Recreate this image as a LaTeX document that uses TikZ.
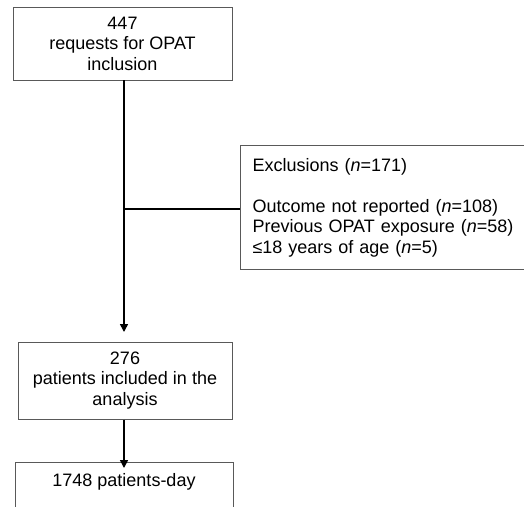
\documentclass[tikz,border=0pt]{standalone}
\usepackage{fontspec}
\setmainfont{Liberation Sans}
\usetikzlibrary{arrows.meta}
\begin{document}
\begin{tikzpicture}[x=1pt,y=-1pt,
  txt/.style={font=\fontsize{18}{20.5}\selectfont},
  box/.style={draw=black!65,line width=1pt,fill=white,inner sep=0pt,txt},
  conn/.style={line width=1.6pt,black},
  arr/.style={conn,-{Triangle[length=8pt,width=8pt]}}]
\useasboundingbox[clip] (0,0) rectangle (524,506);
\fill[white] (0,0) rectangle (524,506);
\node[box,minimum width=219pt,minimum height=73pt,align=center] (req) at (122.5,43.5)
  {447\\requests for OPAT\\inclusion};
\node[box,anchor=north west,minimum width=300pt,minimum height=124pt,
  text width=276pt,inner xsep=12pt,align=left] (excl) at (240,145)
  {Exclusions (\textit{n}=171)\\[20.5pt]Outcome not reported (\textit{n}=108)\\Previous OPAT exposure (\textit{n}=58)\\≤18 years of age (\textit{n}=5)};
\node[box,minimum width=214pt,minimum height=77pt,align=center] (inc) at (125,380.5)
  {276\\patients included in the\\analysis};
\node[box,anchor=north,minimum width=218pt,minimum height=80pt] (pd) at (124,462) {};
\node[txt,anchor=base] (pdt) at (124,486) {1748 patients-day};
\coordinate (j) at (124,209);
\coordinate (s1) at (124,80);
\coordinate (e1) at (124,332);
\draw[arr] (s1) -- (e1);
\draw[conn] (j) -- (excl.west |- j);
\draw[arr] (inc.south -| e1) -- ([yshift=-6pt]pd.north);
\end{tikzpicture}
\end{document}
